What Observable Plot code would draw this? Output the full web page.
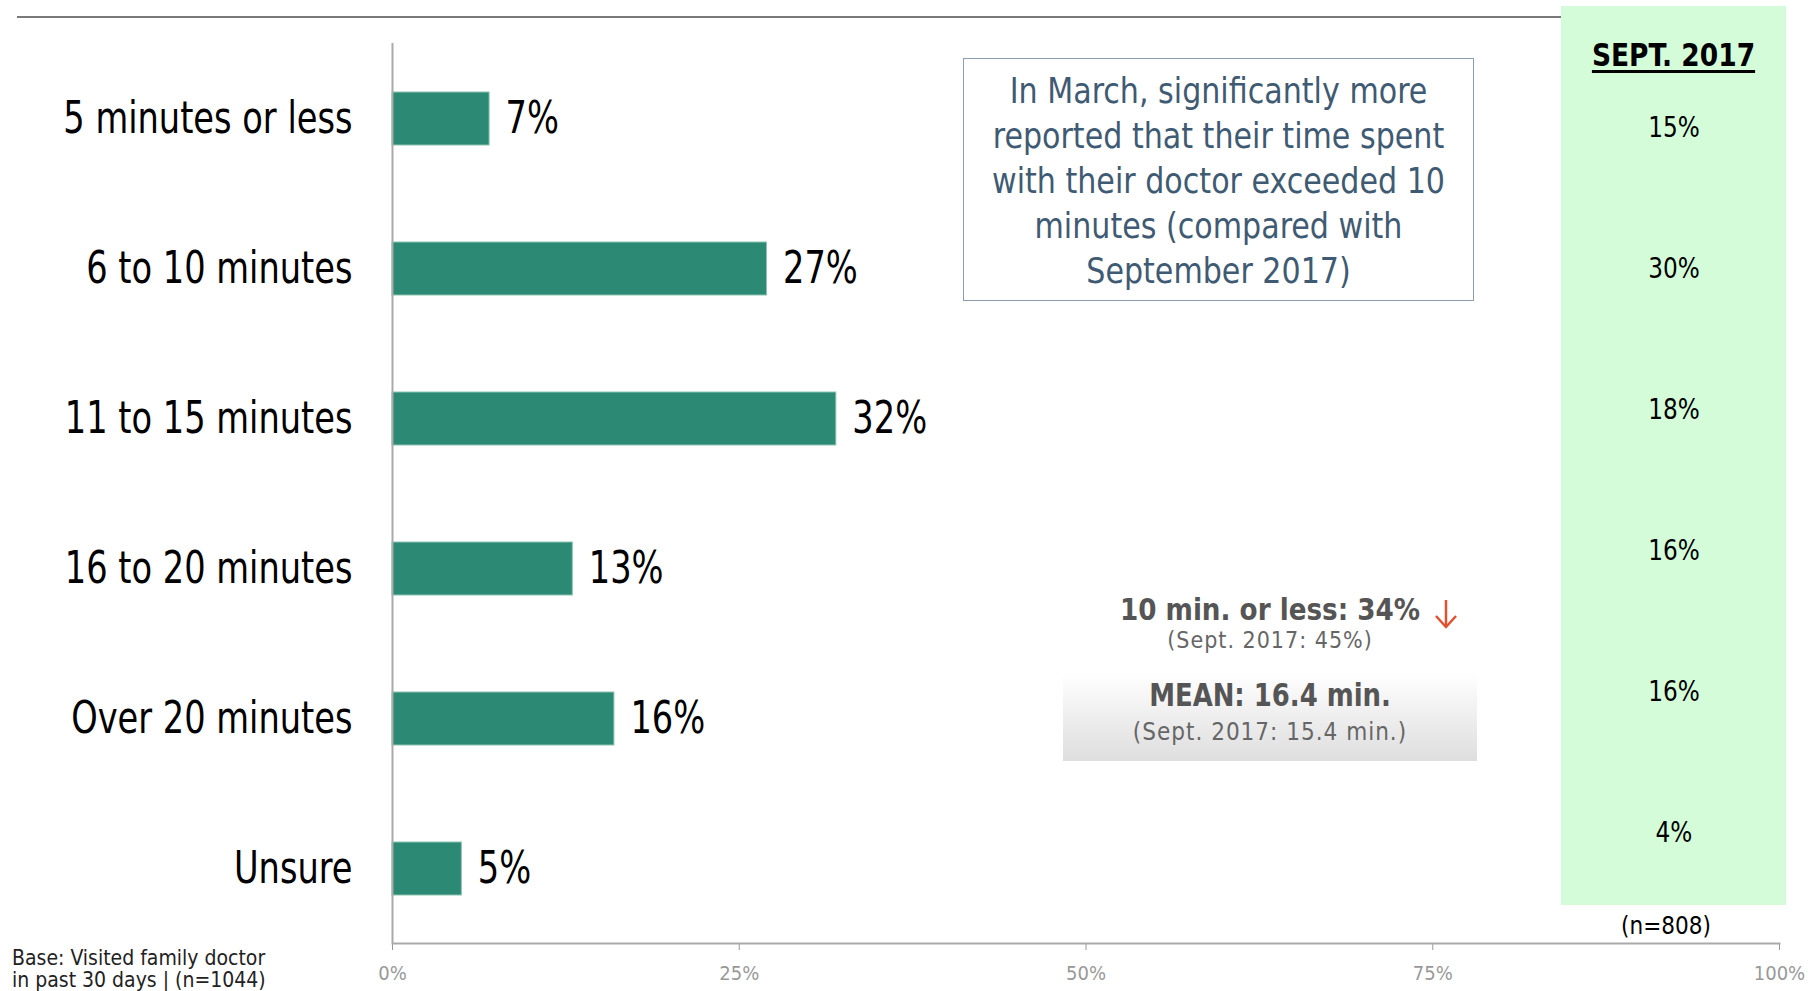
<!DOCTYPE html>
<html><head><meta charset="utf-8">
<script src="https://cdn.jsdelivr.net/npm/d3@7"></script>
<script src="https://cdn.jsdelivr.net/npm/@observablehq/plot@0.6"></script>
<style>
body{margin:0;background:#fff;}
#wrap{position:relative;width:1808px;height:991px;overflow:hidden;font-family:"Liberation Sans Narrow","DejaVu Sans Condensed",sans-serif;}
.abs{position:absolute;}
#wrap svg{display:block;}
.sq{display:block;transform-origin:center;}
</style></head><body><div id="wrap"></div>
<script>
const categories = ["5 minutes or less","6 to 10 minutes","11 to 15 minutes","16 to 20 minutes","Over 20 minutes","Unsure"];
const march2018 = [7,27,32,13,16,5];
const sept2017 = [15,30,18,16,16,4];
const xTicks = [0,25,50,75,100];
const FONT = '"Liberation Sans Narrow","DejaVu Sans Condensed",sans-serif';

const wrap = document.getElementById("wrap");
const data = categories.map((c,i)=>({category:c, value:march2018[i]}));
const septData = categories.map((c,i)=>({category:c, value:sept2017[i]}));

const mainPlot = Plot.plot({
  width:1808, height:991,
  marginLeft:392, marginRight:29, marginTop:43, marginBottom:48,
  style:{fontFamily:FONT, background:"transparent", overflow:"visible"},
  x:{domain:[0,100]},
  y:{domain:categories, paddingInner:0.647, paddingOuter:0.3235},
  marks:[
    Plot.barX(data,{x:"value", y:"category", fill:"#2c8a74", stroke:"#8cc4b4", strokeWidth:1}),
    Plot.text(data,{x:"value", y:"category", text:d=>d.value+"%", textAnchor:"start", dx:16, fontSize:44, fill:"#000"}),
    Plot.axisY({tickSize:0, tickPadding:40, fontSize:44, color:"#000", label:null}),
    Plot.axisX({ticks:xTicks, tickFormat:d=>d+"%", tickSize:7, tickPadding:15, fontSize:20, color:"#999", label:null}),
    Plot.ruleX([0],{stroke:"#aaa", strokeWidth:2}),
    Plot.frame({anchor:"bottom", stroke:"#aaa", strokeWidth:2})
  ]
});
mainPlot.style.position="absolute"; mainPlot.style.left="0px"; mainPlot.style.top="0px";
wrap.appendChild(mainPlot);

// condense the large labels to mimic the narrow typeface of the original
d3.select(mainPlot).selectAll('g[aria-label="y-axis tick label"] text, g[aria-label="text"] text').each(function(){
  const L = this.getComputedTextLength();
  this.setAttribute("textLength", L*0.85);
  this.setAttribute("lengthAdjust","spacingAndGlyphs");
});

// top rule
const topRule = document.createElement("div");
topRule.className="abs";
Object.assign(topRule.style,{left:"17px",top:"16px",width:"1544px",height:"2px",background:"#7a7a7a"});
wrap.appendChild(topRule);

// Sept 2017 column
const sidePlot = Plot.plot({
  width:225, height:899,
  marginLeft:0, marginRight:0, marginTop:49, marginBottom:0,
  style:{fontFamily:FONT, background:"#d4fcd8", overflow:"visible"},
  y:{domain:categories, axis:null},
  marks:[
    Plot.text(septData,{y:"category", frameAnchor:"middle", text:d=>d.value+"%", fontSize:28, fill:"#000"})
  ]
});
sidePlot.style.position="absolute"; sidePlot.style.left="1561px"; sidePlot.style.top="6px";
wrap.appendChild(sidePlot);
d3.select(sidePlot).selectAll('g[aria-label="text"] text').each(function(){
  const L = this.getComputedTextLength();
  this.setAttribute("textLength", L*0.92);
  this.setAttribute("lengthAdjust","spacingAndGlyphs");
});

function addText(html, styles){
  const d=document.createElement("div");
  d.className="abs"; d.innerHTML=html;
  Object.assign(d.style, styles);
  wrap.appendChild(d);
  return d;
}

addText('<span class="sq" style="transform:scaleX(0.92)">SEPT. 2017</span>',{left:"1561px",width:"225px",top:"36px",textAlign:"center",fontSize:"32px",fontWeight:"bold",lineHeight:"38px",color:"#000",textDecoration:"underline",textDecorationThickness:"3px",textUnderlineOffset:"4px"});
addText("(n=808)",{left:"1566px",width:"200px",top:"912px",textAlign:"center",fontSize:"24px",lineHeight:"28px",color:"#000"});

// annotation box
addText('<div class="sq" style="transform:scaleX(0.93)">In March, significantly more<br>reported that their time spent<br>with their doctor exceeded 10<br>minutes (compared with<br>September 2017)</div>',
  {left:"963px",top:"58px",width:"511px",height:"243px",border:"1px solid #8d9db1",textAlign:"center",fontSize:"36px",lineHeight:"45px",paddingTop:"9px",boxSizing:"border-box",color:"#3f5b73",background:"#fff"});

// 10 min or less
addText('<div class="sq" style="transform:scaleX(0.94)">10 min. or less: 34%</div>',{left:"1070px",width:"400px",top:"591px",textAlign:"center",fontSize:"31px",fontWeight:"bold",lineHeight:"36px",color:"#555"});
addText("(Sept. 2017: 45%)",{left:"1070px",width:"400px",top:"626px",textAlign:"center",fontSize:"23px",lineHeight:"28px",color:"#666",letterSpacing:"1px"});
addText('<svg width="26" height="30" viewBox="0 0 26 30"><line x1="13" y1="1" x2="13" y2="28" stroke="#e2502f" stroke-width="2.5"/><polyline points="3,17 13,28 23,17" fill="none" stroke="#e2502f" stroke-width="2.5"/></svg>',{left:"1433px",top:"599px",width:"26px",height:"30px"});

// mean box
addText('<div class="sq" style="position:absolute;left:0;width:100%;top:5px;font-size:32px;font-weight:bold;line-height:36px;color:#555;transform:scaleX(0.9)">MEAN: 16.4 min.</div><div style="position:absolute;left:0;width:100%;top:45px;font-size:24px;line-height:30px;color:#666;letter-spacing:1px">(Sept. 2017: 15.4 min.)</div>',
  {left:"1063px",top:"672px",width:"414px",height:"89px",textAlign:"center",background:"linear-gradient(#ffffff, #dedede)"});

// footnote
addText("Base: Visited family doctor<br>in past 30 days | (n=1044)",{left:"12px",top:"947px",fontSize:"21px",lineHeight:"22px",color:"#222"});
</script>
</body></html>
